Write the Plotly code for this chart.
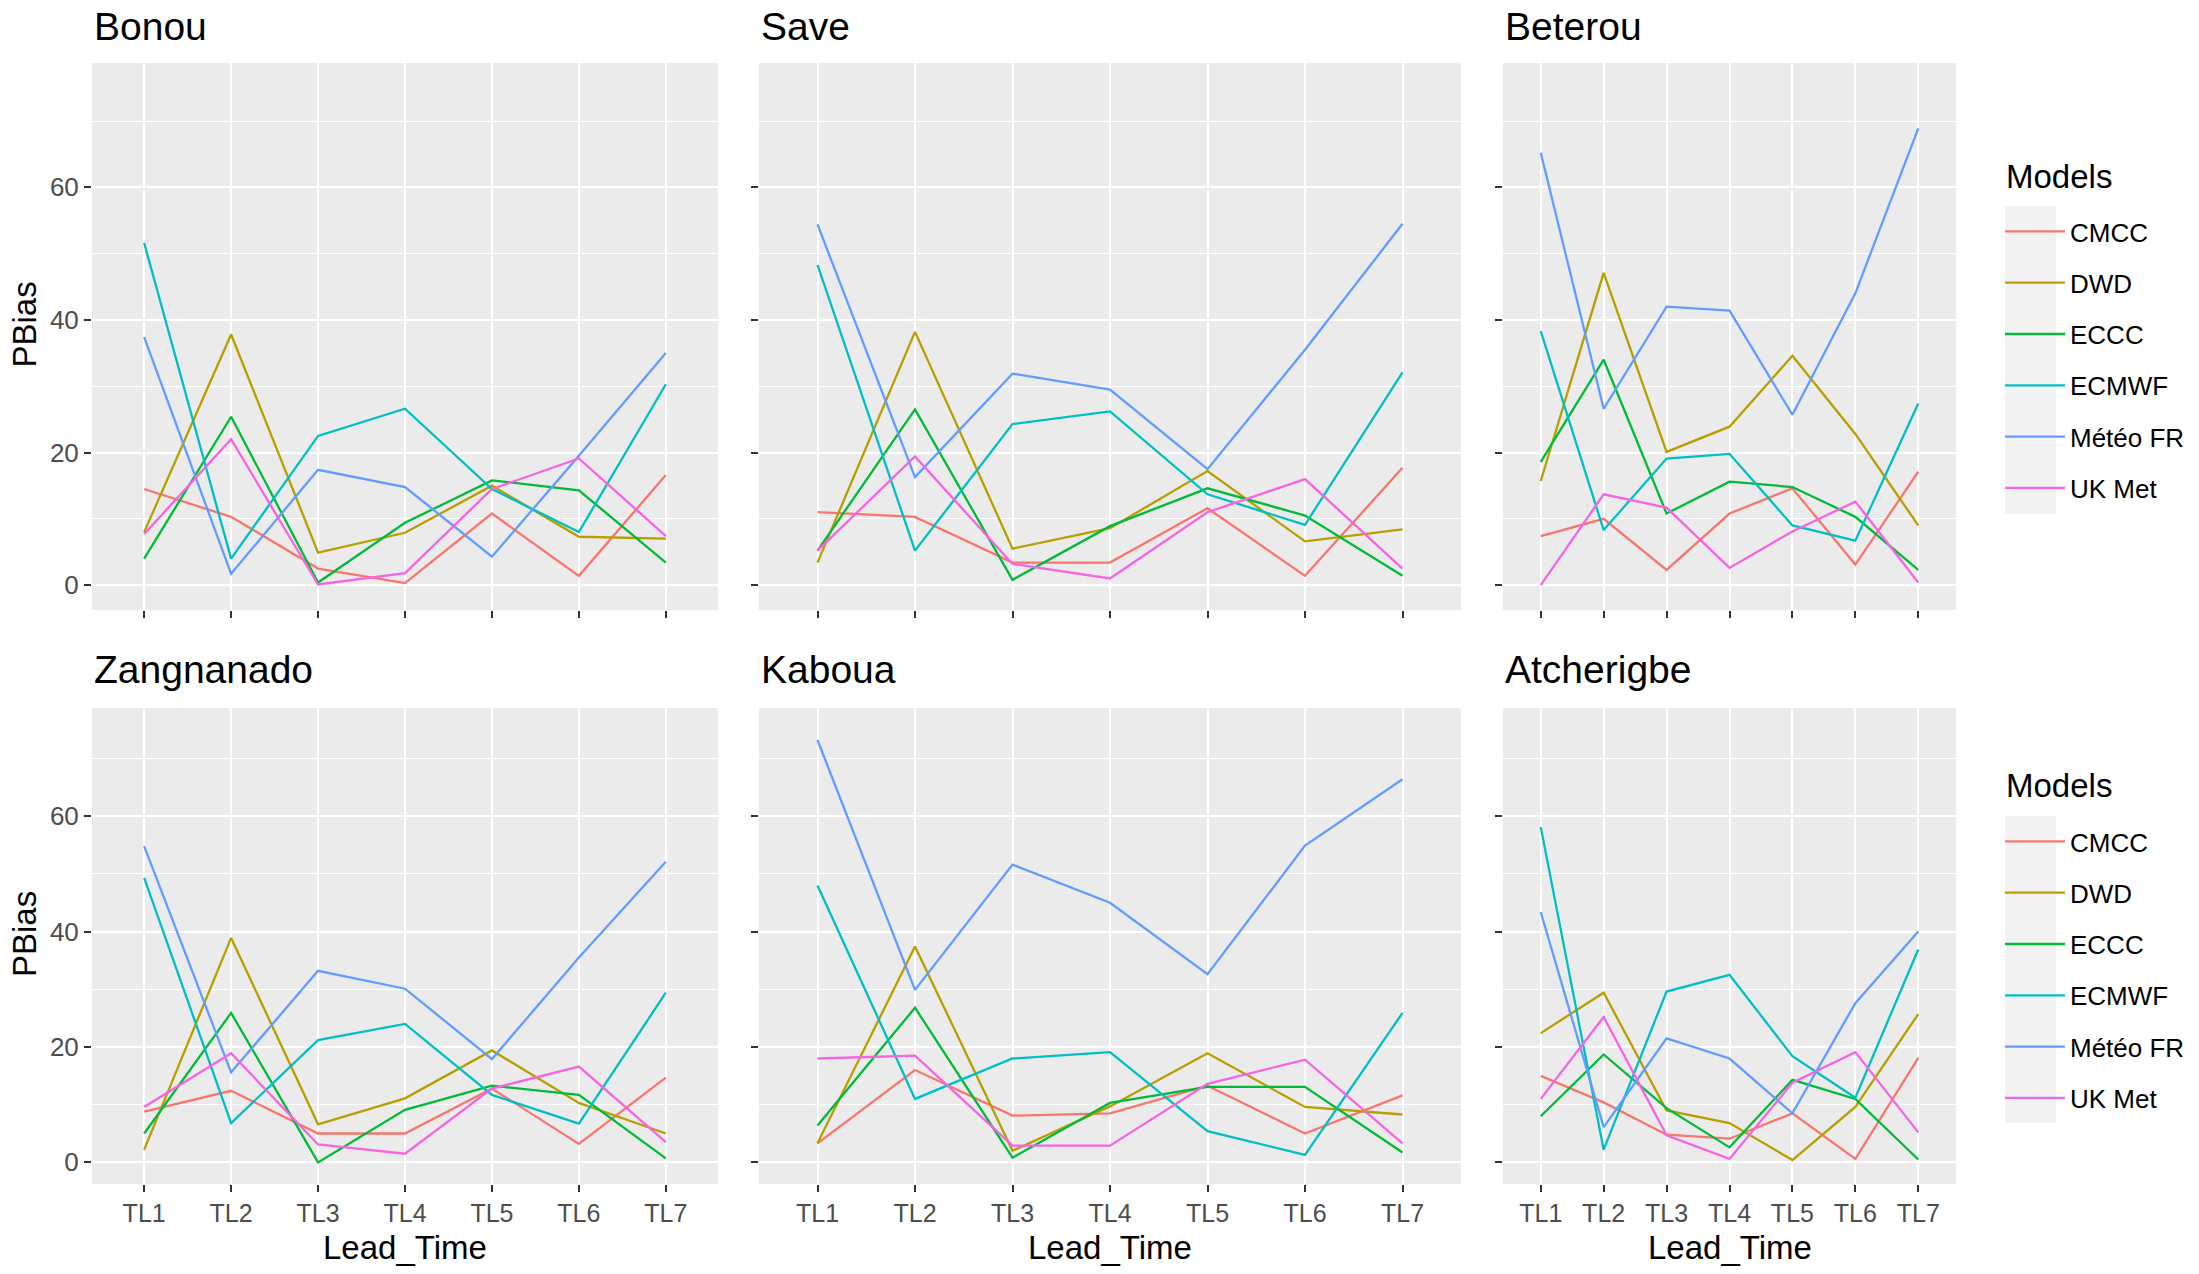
import plotly.graph_objects as go

W, H = 2199, 1274

lead_times = ["TL1", "TL2", "TL3", "TL4", "TL5", "TL6", "TL7"]
models = ["CMCC", "DWD", "ECCC", "ECMWF", "Météo FR", "UK Met"]
colors = ["#F8766D", "#B79F00", "#00BA38", "#00BFC4", "#619CFF", "#F564E3"]
stations = ["Bonou", "Save", "Beterou", "Zangnanado", "Kaboua", "Atcherigbe"]

# PBias per model (rows in the order of `models`), per lead time TL1..TL7
bonou = [
    [14.5, 10.3, 2.5, 0.3, 10.8, 1.4, 16.6],
    [8.0, 37.8, 4.9, 7.9, 15.0, 7.3, 7.0],
    [4.0, 25.4, 0.4, 9.4, 15.8, 14.3, 3.4],
    [51.6, 4.0, 22.5, 26.6, 14.5, 8.0, 30.3],
    [37.4, 1.7, 17.4, 14.8, 4.3, 19.5, 35.0],
    [7.7, 22.0, 0.1, 1.8, 14.5, 19.1, 7.4],
]
save = [
    [11.0, 10.3, 3.4, 3.4, 11.6, 1.4, 17.7],
    [3.4, 38.2, 5.5, 8.6, 17.2, 6.6, 8.4],
    [5.2, 26.5, 0.8, 8.9, 14.6, 10.5, 1.4],
    [48.3, 5.2, 24.3, 26.2, 13.7, 9.1, 32.1],
    [54.4, 16.3, 31.9, 29.5, 17.5, 35.5, 54.5],
    [5.2, 19.4, 3.2, 1.0, 11.0, 16.0, 2.5],
]
beterou = [
    [7.4, 10.0, 2.3, 10.8, 14.6, 3.1, 17.1],
    [15.7, 47.1, 20.1, 23.9, 34.6, 22.8, 9.0],
    [18.6, 34.0, 10.8, 15.6, 14.8, 10.3, 2.3],
    [38.3, 8.3, 19.1, 19.8, 9.0, 6.7, 27.4],
    [65.2, 26.6, 42.0, 41.4, 25.7, 44.0, 68.9],
    [0.0, 13.7, 11.7, 2.6, 8.1, 12.6, 0.4],
]
zangnanado = [
    [8.8, 12.4, 5.0, 5.0, 12.8, 3.2, 14.7],
    [2.2, 38.9, 6.6, 11.1, 19.4, 10.3, 5.0],
    [5.0, 25.9, 0.0, 9.1, 13.3, 11.7, 0.7],
    [49.3, 6.8, 21.2, 24.0, 11.7, 6.7, 29.4],
    [54.8, 15.6, 33.2, 30.1, 17.9, 35.5, 52.1],
    [9.6, 18.9, 3.1, 1.5, 12.8, 16.6, 3.5],
]
kaboua = [
    [3.3, 16.0, 8.1, 8.5, 13.3, 5.0, 11.6],
    [3.3, 37.4, 2.0, 9.7, 18.9, 9.6, 8.3],
    [6.4, 26.8, 0.8, 10.3, 13.1, 13.1, 1.7],
    [48.0, 11.0, 18.0, 19.1, 5.4, 1.3, 25.9],
    [73.2, 29.9, 51.6, 45.0, 32.6, 54.9, 66.4],
    [18.0, 18.5, 2.9, 2.9, 13.6, 17.8, 3.3],
]
atcherigbe = [
    [15.0, 10.4, 4.8, 4.1, 8.5, 0.6, 18.1],
    [22.4, 29.4, 9.0, 6.8, 0.4, 9.6, 25.7],
    [8.0, 18.7, 9.4, 2.6, 14.3, 11.0, 0.5],
    [58.1, 2.2, 29.6, 32.5, 18.4, 11.2, 36.9],
    [43.4, 6.1, 21.5, 18.0, 8.5, 27.6, 40.0],
    [11.0, 25.2, 4.7, 0.6, 13.8, 19.1, 5.2],
]
station_data = [bonou, save, beterou, zangnanado, kaboua, atcherigbe]

y_ticks = [0, 20, 40, 60]
y_limits = [0, 75]

# ---------- layout geometry (pixels) ----------
col_px = [(92, 718), (759, 1461), (1503, 1956)]
row_px = [(63, 610), (708, 1184)]


def px_x(v):
    return v / W


def px_y(v):
    return 1 - v / H


FONT = "Liberation Sans, Arial, sans-serif"
span = y_limits[1] - y_limits[0]
y_range = [y_limits[0] - 0.05 * span, y_limits[1] + 0.05 * span]

fig = go.Figure()
layout = dict(
    width=W, height=H,
    margin=dict(l=0, r=0, t=0, b=0),
    paper_bgcolor="white",
    plot_bgcolor="#EBEBEB",
    font=dict(family=FONT, color="black"),
    annotations=[],
    shapes=[],
)

for idx, (name, data) in enumerate(zip(stations, station_data)):
    r, c = divmod(idx, 3)
    ax = "" if idx == 0 else str(idx + 1)
    x0, x1 = col_px[c]
    y0, y1 = row_px[r]
    legend_name = "legend" if r == 0 else "legend2"
    for m, (model, col) in enumerate(zip(models, colors)):
        fig.add_trace(go.Scatter(
            x=lead_times, y=data[m], mode="lines", name=model,
            line=dict(color=col, width=2.3),
            xaxis="x" + ax, yaxis="y" + ax,
            legend=legend_name,
            legendgroup=f"{model}_{r}",
            showlegend=(c == 0),
        ))
    layout["xaxis" + ax] = dict(
        domain=[px_x(x0), px_x(x1)], anchor="y" + ax,
        type="category", categoryorder="array", categoryarray=lead_times,
        range=[-0.6, 6.6], showgrid=True, gridcolor="white", gridwidth=2.2,
        zeroline=False, showline=False,
        ticks="outside", ticklen=7, tickwidth=2, tickcolor="#333333",
        showticklabels=(r == 1),
        tickfont=dict(size=25, color="#4D4D4D", family=FONT),
        fixedrange=True,
    )
    layout["yaxis" + ax] = dict(
        domain=[px_y(y1), px_y(y0)], anchor="x" + ax,
        range=y_range, tickvals=y_ticks,
        showgrid=True, gridcolor="white", gridwidth=2.2,
        minor=dict(tickvals=[10, 30, 50, 70], showgrid=True,
                   gridcolor="white", gridwidth=1.1, ticks=""),
        zeroline=False, showline=False,
        ticks="outside", ticklen=7, tickwidth=2, tickcolor="#333333",
        showticklabels=(c == 0),
        tickfont=dict(size=26, color="#4D4D4D", family=FONT),
        fixedrange=True,
    )
    # panel title
    layout["annotations"].append(dict(
        text=name, xref="paper", yref="paper",
        x=px_x(x0), y=px_y(y0 - (37 if r == 0 else 39)),
        xanchor="left", yanchor="middle",
        showarrow=False, font=dict(size=39, color="black", family=FONT),
    ))
    # y axis title
    if c == 0:
        layout["annotations"].append(dict(
            text="PBias", xref="paper", yref="paper",
            x=px_x(24), y=px_y((y0 + y1) / 2 - 12), xanchor="center",
            yanchor="middle", textangle=-90, showarrow=False,
            font=dict(size=33, color="black", family=FONT),
        ))
    # x axis title
    if r == 1:
        layout["annotations"].append(dict(
            text="Lead_Time", xref="paper", yref="paper",
            x=px_x((x0 + x1) / 2), y=px_y(1247), xanchor="center",
            yanchor="middle", showarrow=False,
            font=dict(size=33, color="black", family=FONT),
        ))

# legend titles and key backgrounds
for title_y, top, bot in [(176, 206, 514), (785, 816, 1123)]:
    layout["annotations"].append(dict(
        text="Models", xref="paper", yref="paper",
        x=px_x(2004), y=px_y(title_y), xanchor="left", yanchor="middle",
        showarrow=False, font=dict(size=33, color="black", family=FONT),
    ))
    layout["shapes"].append(dict(
        type="rect", xref="paper", yref="paper",
        x0=px_x(2005), x1=px_x(2056), y0=px_y(bot), y1=px_y(top),
        fillcolor="#F2F2F2", line=dict(width=0), layer="below",
    ))

legend_common = dict(
    xanchor="left", yanchor="top",
    bgcolor="rgba(0,0,0,0)", borderwidth=0,
    font=dict(size=26, color="black", family=FONT),
    tracegroupgap=14.5, itemwidth=60,
)
layout["legend"] = dict(x=px_x(2000), y=px_y(208), **legend_common)
layout["legend2"] = dict(x=px_x(2000), y=px_y(818), **legend_common)

fig.update_layout(**layout)
fig.write_html(
    "out.html",
    config={"displayModeBar": False},
    post_script="document.body.style.margin='0px';",
)
